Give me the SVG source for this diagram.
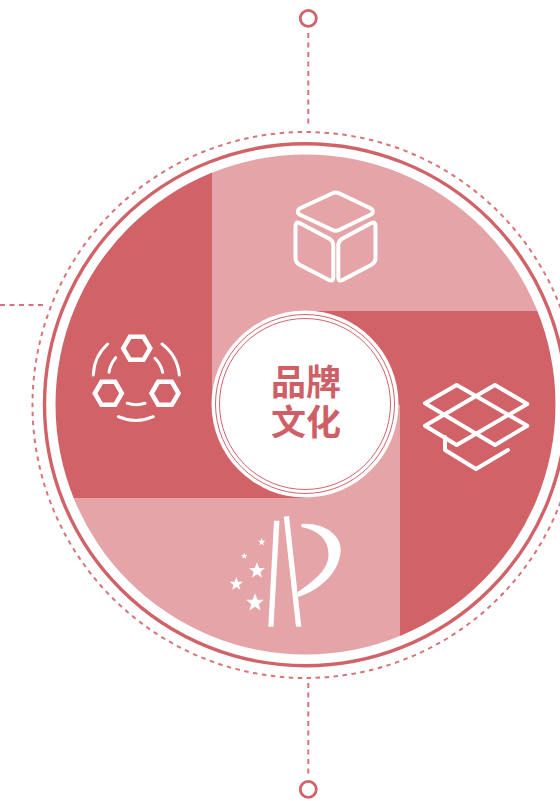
<svg xmlns="http://www.w3.org/2000/svg" xmlns:xlink="http://www.w3.org/1999/xlink" width="560" height="801" viewBox="0 0 560 801">
<style>
.dark{fill:#d16268}
.pale{fill:#e5a4a8}
.dash{fill:none;stroke:#d9737a;stroke-width:2;stroke-dasharray:5 4.5}
.end{fill:#fff;stroke:#d16268;stroke-width:2.8}
.ico{fill:none;stroke:#fff;stroke-width:4;stroke-linecap:round;stroke-linejoin:round}
.hexs{fill:none;stroke:#fff;stroke-width:4.6;stroke-linejoin:miter}
.ico2{fill:none;stroke:#fff;stroke-width:3;stroke-linecap:round}
.w{fill:#fff}
.t{font-family:"Noto Sans CJK SC","Noto Sans CJK JP",sans-serif;font-weight:700;font-size:35px;fill:#cf5f67;text-anchor:middle}
</style>
<defs>
<clipPath id="pie"><circle cx="305.5" cy="404.5" r="250"/></clipPath>
<polygon id="star" points="0,-1 0.26,-0.31 0.95,-0.31 0.4,0.14 0.59,0.81 0,0.42 -0.59,0.81 -0.4,0.14 -0.95,-0.31 -0.26,-0.31"/>
<polygon id="hex" points="-13.5,0 -6.8,-11.5 6.8,-11.5 13.5,0 6.8,11.5 -6.8,11.5"/>
</defs>
<rect width="560" height="801" fill="#fff"/>
<g id="connectors">
<path class="dash" d="M308.3 33V128"/>
<path class="dash" d="M308.3 683V775"/>
<path class="dash" d="M0 305H46"/>
</g>
<g id="rings">
<circle cx="305.5" cy="405" r="273" fill="none" stroke="#d9737a" stroke-width="2" stroke-dasharray="4.5 4.5"/>
<circle cx="305.5" cy="404.7" r="261" fill="none" stroke="#d16268" stroke-width="3.4"/>
</g>
<g id="node-top-end"><circle class="end" cx="308.3" cy="18.3" r="8"/></g>
<g id="node-bottom-end"><circle class="end" cx="308.3" cy="789.3" r="8"/></g>
<g id="pie-quadrants" clip-path="url(#pie)">
<path class="pale" d="M212 140H570V311H306V405H212Z"/>
<path class="dark" d="M306 311H570V670H400V405H306Z"/>
<path class="pale" d="M400 405V670H40V498H306V405Z"/>
<path class="dark" d="M212 140V405H306V498H40V140Z"/>
</g>
<g id="node-cube" class="ico">
<path d="M299.5 208.5L332.5 193.3Q335.7 191.7 339 193.3L371 208.5Q375 211.7 371 214.5L339 230Q335.7 231.7 332.5 230L299.5 214.5Q296 211.7 299.5 208.5Z"/>
<path d="M295.5 226Q295.5 221 299.5 223L329 238.5Q333.3 241 333.3 245.5V277Q333.3 282 329 280L300 265Q295.5 262.5 295.5 258Z"/>
<path d="M375.5 226Q375.5 221 371.5 223L342.5 238.5Q338.3 241 338.3 245.5V277Q338.3 282 342.5 280L371 265Q375.5 262.5 375.5 258Z"/>
</g>
<g id="node-molecule">
<g class="hexs"><use xlink:href="#hex" href="#hex" transform="translate(136.7 348.3)"/><use xlink:href="#hex" href="#hex" transform="translate(108.3 393.3)"/><use xlink:href="#hex" href="#hex" transform="translate(165 393.3)"/></g>
<g class="ico2">
<path d="M107.7 344A44 44 0 0 0 93.3 375"/>
<path d="M162 344A44 44 0 0 1 179.3 375"/>
<path d="M118.3 416.7A44 44 0 0 0 153.3 416.7"/>
<path d="M115.7 357.7A29 29 0 0 0 109 372.3"/>
<path d="M155 358.3A29 29 0 0 1 162.7 372.3"/>
<path d="M127.3 403.3A29 29 0 0 0 145 403.3"/>
</g>
</g>
<g id="node-box" class="ico">
<path d="M456.7 385L527.3 425.7L495 445L425 403.3Z"/>
<path d="M495 385L425 425.7L456.7 445L527.3 404Z"/>
<path d="M445 437V450L476 469L508 450"/>
</g>
<g id="node-logo" class="w">
<polygon points="274,520.7 279.5,520.7 273.5,626.7 268.3,626.7"/>
<polygon points="283.7,516.7 289,516 301.3,626.7 296,626.7"/>
<path d="M301.5 524C322 522 341 534 340.7 550C340 572 320 590 298.3 597L297.2 592.5C315 580 328 570 328.5 555C329 540 318 530 301.5 527Z"/>
<use xlink:href="#star" href="#star" transform="translate(261.7 542) scale(3.9)"/>
<use xlink:href="#star" href="#star" transform="translate(244.3 556) scale(3.4)"/>
<use xlink:href="#star" href="#star" transform="translate(257 570.7) scale(8.5)"/>
<use xlink:href="#star" href="#star" transform="translate(236.3 584) scale(7)"/>
<use xlink:href="#star" href="#star" transform="translate(255 602.7) scale(9.5)"/>
</g>
<g id="node-center">
<circle cx="305" cy="404" r="93.5" fill="#fff"/>
<circle cx="305" cy="404" r="89.5" fill="none" stroke="#d16268" stroke-width="1"/>
<circle cx="305" cy="404" r="85.5" fill="none" stroke="#d16268" stroke-width="1"/>
<text class="t"><tspan x="306" y="395">品牌</tspan><tspan x="306" y="434.5">文化</tspan></text>
</g>
</svg>
